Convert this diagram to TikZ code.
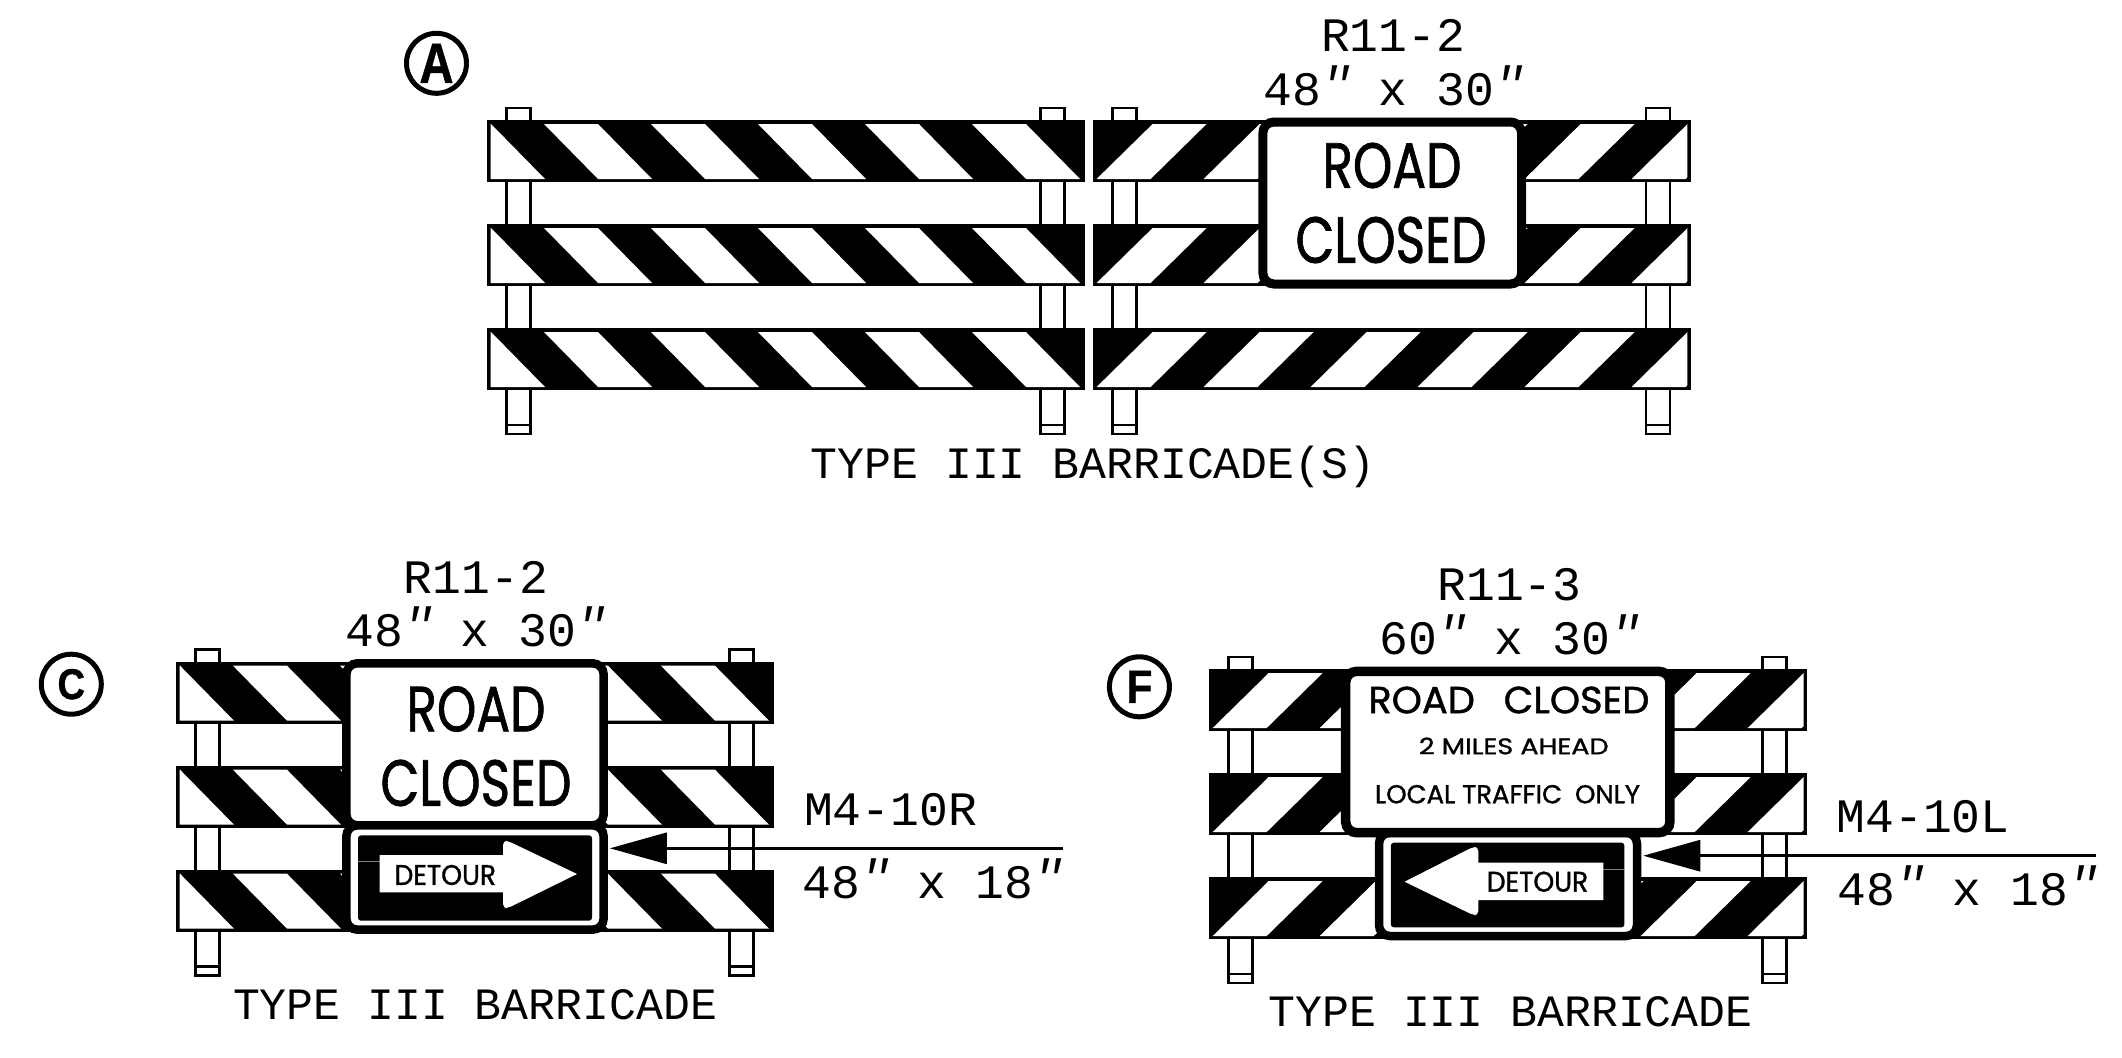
\documentclass[tikz,border=0pt]{standalone}
\usepackage{fontspec}
\usepackage{graphicx}
\usetikzlibrary{arrows.meta}
\setmainfont{Liberation Sans}
\newfontfamily\cadfont{Liberation Mono}
\newfontfamily\signfont[FakeBold=1.2]{Poppins}
\newfontfamily\tagfont[FakeBold=1]{Liberation Sans}
\newcommand\lblfont{\cadfont\fontsize{48}{48}\selectfont}
\newcommand\ttlfont{\cadfont\fontsize{44.8}{48}\selectfont}
\newcommand\prm{{\itshape\kern-.1em\raisebox{.1em}{'}\kern-.35em\raisebox{.1em}{'}\kern-.15em}}
\newcommand\fitted[3]{\resizebox{#1pt}{#2pt}{\signfont #3}}
\newcommand\tagletter[3]{\resizebox{#1pt}{#2pt}{\tagfont\bfseries #3}}
% one Type III barricade panel: x, y of upper left corner, stripe direction
\newcommand\postpair{%
  \foreach \px in {18.5,552}{
    \draw[postline] (\px+1.25,-12.3) rectangle (\px+25.25,313.7);
    \draw[postline] (\px+1.25,304.7) -- (\px+25.25,304.7);
  }}
\newcommand\barback{\fill[white] (0,0) rectangle (598,62); \fill[black] (0,0) rectangle (598,62);}
\newcommand\backslashbarricade[2]{%
  \begin{scope}[shift={(#1,#2)}]
    \postpair
    \foreach \by in {0,104,208}{
      \begin{scope}[shift={(0,\by)}]
        \barback
        \clip (3.5,3.7) rectangle (594.5,58.7);
        \foreach \k in {-1,0,1,2,3,4}{
          \fill[white] (57+107*\k,3.7) -- (111+107*\k,3.7) -- (165+107*\k,58.7) -- (111+107*\k,58.7) -- cycle;
        }
      \end{scope}
    }
  \end{scope}}
\newcommand\slashbarricade[2]{%
  \begin{scope}[shift={(#1,#2)}]
    \postpair
    \foreach \by in {0,104,208}{
      \begin{scope}[shift={(0,\by)}]
        \barback
        \clip (3.5,3.7) rectangle (594.5,58.7);
        \foreach \k in {0,1,2,3,4,5}{
          \fill[white] (3.7+107*\k,58.7) -- (57.7+107*\k,58.7) -- (113.7+107*\k,3.7) -- (59.7+107*\k,3.7) -- cycle;
        }
      \end{scope}
    }
  \end{scope}}
\tikzset{
  postline/.style={draw=black,fill=white,line width=2.6pt},
  signbox/.style={draw=black,fill=white,rounded corners=11pt,inner sep=0pt},
  plainlabel/.style={inner sep=0pt,anchor=base,text=black},
  fittext/.style={inner sep=0pt,anchor=center,text=black},
  tagcircle/.style={circle,draw=black,fill=white,line width=5pt,inner sep=0pt,minimum size=60pt},
  leaderline/.style={draw=black,line width=3pt,shorten >=2pt,-{Triangle[length=57pt,width=31pt]}},
  arrowpanel/.style={fill=black,rounded corners=3pt}
}
\begin{document}
\begin{tikzpicture}[x=1pt,y=-1pt]
\useasboundingbox (0,0) rectangle (2122,1057);
\fill[white] (0,0) rectangle (2122,1057);

% ---------- A ----------
\backslashbarricade{487}{120.3}
\slashbarricade{1092.9}{120.3}
\node[signbox,line width=9pt,minimum width=258.7pt,minimum height=162pt] (signA) at (1392.2,203) {};
\node[fittext] (roadA) at (1392,165.5) {\fitted{139}{45}{ROAD}};
\node[fittext] (closedA) at (1391,240) {\fitted{191}{46}{CLOSED}};
\node[tagcircle] (tagA) at (436.5,63.3) {\tagletter{34}{39}{A}};
\node[plainlabel] (codeA) at (1393,52) {\lblfont R11-2};
\node[plainlabel] (sizeA) at (1393,105) {\lblfont 48\prm{} x 30\prm};
\node[plainlabel] (typeA) at (1093,478.3) {\ttlfont TYPE III BARRICADE(S)};

% ---------- C ----------
\backslashbarricade{176}{662}
\node[signbox,line width=8.5pt,minimum width=257.3pt,minimum height=162pt] (signC) at (475,744.3) {};
\node[fittext] (roadC) at (476,709) {\fitted{139}{45}{ROAD}};
\node[fittext] (closedC) at (476,783) {\fitted{191}{46}{CLOSED}};
\node[signbox,line width=8.5pt,minimum width=257.3pt,minimum height=104.3pt] (detC) at (475,877.5) {};
\fill[arrowpanel] (358,835.3) rectangle (592,920.7);
\draw[gray,line width=1pt] (358,861.7) -- (380,861.7);
\fill[white] (379.5,855) -- (503,855) [rounded corners=4pt] -- (503,841) -- (508,841) [sharp corners] -- (577,874) [rounded corners=4pt] -- (508,908) -- (503,908) [sharp corners] -- (503,892.3) -- (379.5,892.3) -- cycle;
\node[fittext] (wordC) at (445.3,875) {\fitted{101.4}{20}{DETOUR}};
\coordinate (farC) at (1062.7,848.3);
\draw[leaderline] (farC) -- (detC.east |- farC);
\node[tagcircle] (tagC) at (71.3,684.2) {\tagletter{27.5}{30}{C}};
\node[plainlabel] (codeC) at (476,593.3) {\lblfont R11-2};
\node[plainlabel] (sizeC) at (475,646.7) {\lblfont 48\prm{} x 30\prm};
\node[plainlabel] (mC) at (890.5,825.3) {\lblfont M4-10R};
\node[plainlabel] (msizeC) at (932,898.3) {\lblfont 48\prm{} x 18\prm};
\node[plainlabel] (typeC) at (475,1019.3) {\ttlfont TYPE III BARRICADE};

% ---------- F ----------
\slashbarricade{1209}{669.3}
\node[signbox,line width=8.5pt,minimum width=258pt,minimum height=103.3pt] (detF) at (1508,884.4) {};
\node[signbox,line width=9.5pt,minimum width=324.3pt,minimum height=161.3pt] (signF) at (1507.8,752) {};
\node[fittext] (roadF) at (1508.9,700) {\fitted{281}{26.6}{ROAD\hspace{.75em}CLOSED}};
\node[fittext] (milesF) at (1513.8,746) {\fitted{189.6}{16.6}{2 MILES AHEAD}};
\node[fittext] (localF) at (1507.5,794.2) {\fitted{265}{18.3}{LOCAL TRAFFIC\hspace{.5em}ONLY}};
\fill[arrowpanel] (1390.8,842.7) rectangle (1624.4,927.3);
\draw[gray,line width=1pt] (1603,869) -- (1624.4,869);
\fill[white] (1603.4,862.7) -- (1478.3,862.7) [rounded corners=4pt] -- (1478.3,847) -- (1473,847) [sharp corners] -- (1404.6,881.7) [rounded corners=4pt] -- (1473,915) -- (1478.3,915) [sharp corners] -- (1478.3,900) -- (1603.4,900) -- cycle;
\node[fittext] (wordF) at (1537.5,881.7) {\fitted{101.3}{20}{DETOUR}};
\coordinate (farF) at (2095.7,855.7);
\draw[leaderline] (farF) -- (detF.east |- farF);
\node[tagcircle] (tagF) at (1139.4,686.8) {\tagletter{26}{32}{F}};
\node[plainlabel] (codeF) at (1509.5,600.7) {\lblfont R11-3};
\node[plainlabel] (sizeF) at (1509,654.3) {\lblfont 60\prm{} x 30\prm};
\node[plainlabel] (mF) at (1923,832.7) {\lblfont M4-10L};
\node[plainlabel] (msizeF) at (1967,905.7) {\lblfont 48\prm{} x 18\prm};
\node[plainlabel] (typeF) at (1510.6,1026.7) {\ttlfont TYPE III BARRICADE};
\end{tikzpicture}
\end{document}
